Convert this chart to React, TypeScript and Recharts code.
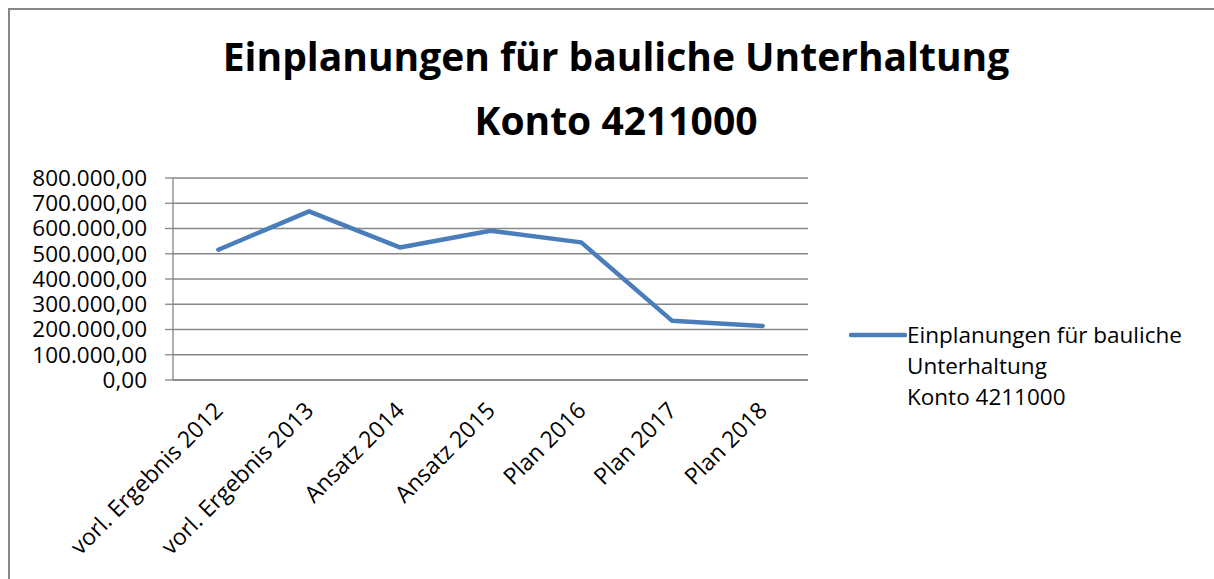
import React from 'react';
import { LineChart, Line, XAxis, YAxis, CartesianGrid } from 'recharts';

// Werte
const CATEGORIES = [
  'vorl. Ergebnis 2012',
  'vorl. Ergebnis 2013',
  'Ansatz  2014',
  'Ansatz 2015',
  'Plan 2016',
  'Plan 2017',
  'Plan 2018',
];
const VALUES = [516000, 668000, 525000, 591000, 545000, 235000, 214000];
const Y_TICKS = [0, 100000, 200000, 300000, 400000, 500000, 600000, 700000, 800000];
const BOUNDARY_TICKS = [0, 1, 2, 3, 4, 5, 6, 7];
const SERIES_NAME = 'Einplanungen für bauliche Unterhaltung Konto 4211000';
const TITLE_LINES = ['Einplanungen für bauliche Unterhaltung', 'Konto 4211000'];
const LEGEND_LINES = ['Einplanungen für bauliche', 'Unterhaltung', 'Konto 4211000'];

const data = CATEGORIES.map((label, i) => ({ label, value: VALUES[i], pos: i + 0.5 }));

const FONT = '"Open Sans", "Liberation Sans", sans-serif';
const AXIS_GRAY = '#868686';
const LINE_BLUE = '#4A7EBB';

const fmt = (v: number) => {
  const int = Math.round(v).toString().replace(/\B(?=(\d{3})+(?!\d))/g, '.');
  return `${int},00`;
};

const CatTick = (props: any) => {
  const { x, y, payload } = props;
  return (
    <g transform={`translate(${x + 6},${y + 32}) rotate(-45)`}>
      <text x={0} y={0} textAnchor="end" fill="#000" fontSize={23} fontFamily={FONT}>
        {payload.value}
      </text>
    </g>
  );
};

export default function App() {
  return (
    <div
      style={{
        position: 'fixed',
        left: 8,
        top: 8,
        width: 1230,
        height: 580,
        borderTop: `2px solid ${AXIS_GRAY}`,
        borderLeft: `2px solid ${AXIS_GRAY}`,
        background: '#fff',
        fontFamily: FONT,
        overflow: 'hidden',
      }}
    >
      {/* Titel */}
      <div
        style={{
          position: 'absolute',
          left: 0,
          width: 1212,
          top: 14,
          textAlign: 'center',
          fontWeight: 700,
          fontSize: 39,
          lineHeight: '64px',
          color: '#000',
        }}
      >
        {TITLE_LINES.map((t) => (
          <div key={t}>{t}</div>
        ))}
      </div>

      <LineChart
        width={1204}
        height={569}
        data={data}
        margin={{ top: 168, right: 406, left: 0, bottom: 9 }}
        style={{ position: 'absolute', left: 0, top: 0 }}
      >
        <CartesianGrid horizontal vertical={false} stroke={AXIS_GRAY} strokeWidth={1.3} />
        <XAxis
          xAxisId="bounds"
          type="number"
          dataKey="pos"
          domain={[0, 7]}
          ticks={BOUNDARY_TICKS}
          tick={false}
          tickSize={8}
          tickLine={{ stroke: AXIS_GRAY, strokeWidth: 1.3 }}
          axisLine={false}
          height={0}
        />
        <XAxis
          xAxisId="cat"
          dataKey="label"
          type="category"
          scale="band"
          interval={0}
          tickLine={false}
          tickSize={0}
          tickMargin={0}
          axisLine={{ stroke: AXIS_GRAY, strokeWidth: 1.3 }}
          tick={<CatTick />}
          height={190}
        />
        <YAxis
          width={163}
          domain={[0, 800000]}
          ticks={Y_TICKS}
          interval={0}
          tickFormatter={fmt}
          tickSize={8}
          tickMargin={18}
          tickLine={{ stroke: AXIS_GRAY, strokeWidth: 1.3 }}
          axisLine={{ stroke: AXIS_GRAY, strokeWidth: 1.3 }}
          tick={{ fill: '#000', fontSize: 22.5, fontFamily: FONT }}
        />
        <Line
          xAxisId="bounds"
          type="linear"
          dataKey="value"
          name={SERIES_NAME}
          stroke={LINE_BLUE}
          strokeWidth={4.5}
          strokeLinecap="round"
          strokeLinejoin="round"
          dot={false}
          activeDot={false}
          isAnimationActive={false}
        />
      </LineChart>

      {/* Legende */}
      <div style={{ position: 'absolute', left: 839, top: 309, fontSize: 22.5, lineHeight: '31px', color: '#000' }}>
        <svg width={58} height={10} style={{ position: 'absolute', left: 0, top: 11 }}>
          <line x1={2} y1={5} x2={56} y2={5} stroke={LINE_BLUE} strokeWidth={4.5} strokeLinecap="round" />
        </svg>
        <div style={{ marginLeft: 58 }}>
          {LEGEND_LINES.map((t) => (
            <div key={t} style={{ whiteSpace: 'nowrap' }}>{t}</div>
          ))}
        </div>
      </div>
    </div>
  );
}
